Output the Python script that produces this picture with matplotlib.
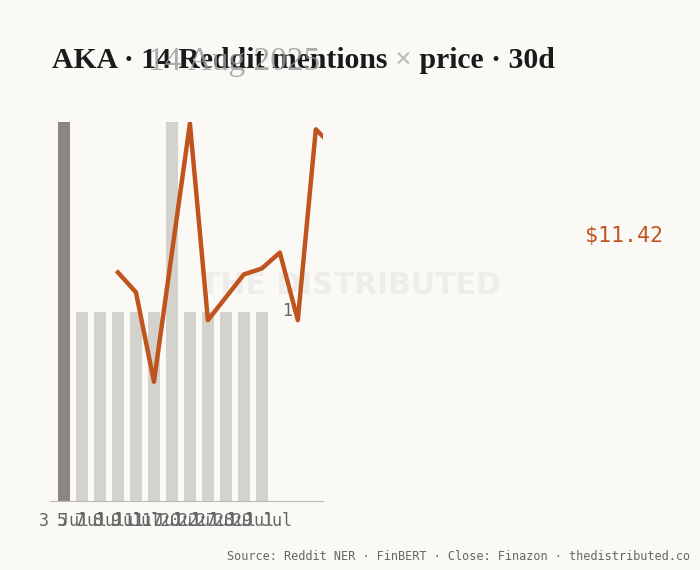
import matplotlib.pyplot as plt

# data
bar_labels = ['3 Jul', '5 Jul', '7 Jul', '8 Jul', '9 Jul', '11 Jul', '17 Jul',
              '20 Jul', '22 Jul', '27 Jul', '28 Jul', '29 Jul']
mentions = [2, 1, 1, 1, 1, 1, 2, 1, 1, 1, 1, 1]
price_idx = [3, 4, 5, 7, 8, 10, 11, 12, 13, 14, 15]
price = [11.15, 11.05, 10.60, 11.90, 10.91, 11.14, 11.17, 11.25, 10.91, 11.87, 11.78]
last_close = 11.42

BG = '#faf9f6'
ORANGE = '#c0541f'
MONO = 'DejaVu Sans Mono'
SERIF = 'Liberation Serif'

fig = plt.figure(figsize=(7, 5.7), dpi=100, facecolor=BG)
ax = fig.add_axes([50 / 700, 69 / 570, 273 / 700, 379 / 570])
ax.set_facecolor('none')

# faint watermark behind everything
ax.text(350 / 700, 1 - 285 / 570, 'THE DISTRIBUTED', transform=fig.transFigure,
        fontsize=21.5, fontweight='bold', color='#eeede9', ha='center', va='center',
        zorder=0.5, clip_on=False)

colors = ['#8b877f'] + ['#d4d2cd'] * (len(mentions) - 1)
ax.bar(range(len(mentions)), mentions, width=0.67, color=colors, zorder=2)
ax.set_ylim(0, 2)
ax.set_xlim(-0.78, 14.4)
ax.set_xticks(range(len(bar_labels)))
ax.set_xticklabels(bar_labels, fontfamily=MONO, fontsize=12, color='#666666')
ax.tick_params(axis='x', length=0, pad=8)
ax.set_yticks([])
for s in ['top', 'right', 'left']:
    ax.spines[s].set_visible(False)
ax.spines['bottom'].set_color('#bbbbbb')
ax.text(12.39, 1, '1', fontfamily=MONO, fontsize=12, color='#666666',
        ha='center', va='center', zorder=3)

ax2 = ax.twinx()
ax2.set_ylim(10.0, 11.907)
ax2.plot(price_idx, price, color=ORANGE, lw=3.2, zorder=4)
ax2.axis('off')

fig.text(585 / 700, 1 - 236 / 570, f'${last_close:.2f}', fontfamily=MONO,
         fontsize=15.5, color=ORANGE, va='center', ha='left')

# title in pieces (the × is light grey)
r = fig.canvas.get_renderer()
parts = [('AKA · 14 Reddit mentions ', '#1a1a1a'), ('×', '#bbbbbb'), (' price · 30d', '#1a1a1a')]
x = 52 / 700
for txt, c in parts:
    t = fig.text(x, 1 - 60 / 570, txt, fontfamily=SERIF, fontsize=21.4, fontweight='bold',
                 color=c, va='center', ha='left')
    bb = t.get_window_extent(renderer=r)
    x += bb.width / fig.bbox.width
fig.text(148 / 700, 1 - 62 / 570, '14 Aug 2025', fontfamily=SERIF, fontsize=24,
         color='#999999', alpha=0.8, va='center', ha='left')

fig.text(690 / 700, 1 - 556 / 570,
         'Source: Reddit NER · FinBERT · Close: Finazon · thedistributed.co',
         fontfamily=MONO, fontsize=8.6, color='#666666', ha='right', va='center')

fig.savefig('out.png', dpi=100, facecolor=BG)
